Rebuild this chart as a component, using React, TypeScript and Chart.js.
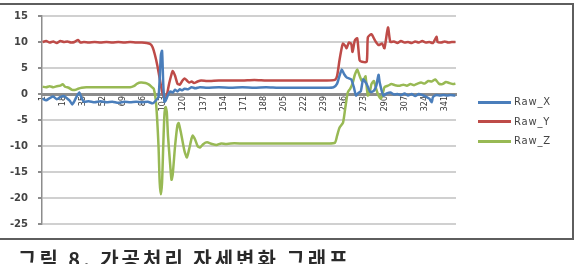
import React, { useEffect, useRef } from "react";
import { Chart, registerables } from "chart.js";

Chart.register(...registerables);

// Category tick labels on the x axis (every 17th sample)
const xTickLabels = [1, 18, 35, 52, 69, 86, 103, 120, 137, 154, 171, 188, 205, 222, 239, 256, 273, 290, 307, 324, 341];
const sampleCount = 350;

const seriesNames = ["Raw_X", "Raw_Y", "Raw_Z"];
const seriesColors = ["#4a7ebb", "#be4b48", "#98b954"];

const yMin = -25;
const yMax = 15;
const yStep = 5;

// [sample index, value]
const rawX: [number, number][] = [
  [1, -0.9], [4, -1.2], [7, -0.8], [10, -0.5], [13, -1.0], [16, -0.6], [19, -0.4], [22, -0.9], [24, -1.3], [26, -2.0],
  [28, -1.3], [30, -0.4], [32, 0.3], [34, -0.8], [36, -1.5], [40, -1.4], [45, -1.6], [50, -1.4], [55, -1.6], [60, -1.5],
  [65, -1.7], [70, -1.5], [75, -1.6], [80, -1.5], [85, -1.6], [90, -1.5], [94, -1.8], [97, -1.2], [99, -0.5], [100, 3.0],
  [101, 7.5], [102, 8.3], [103, 2.0], [104, -1.5], [105, -1.3], [107, -0.2], [109, 0.5], [111, 0.3], [113, 0.8], [115, 0.5],
  [117, 0.9], [119, 0.7], [121, 1.0], [124, 0.9], [127, 1.3], [130, 1.1], [134, 1.3], [140, 1.2], [150, 1.3], [160, 1.2],
  [170, 1.3], [180, 1.2], [190, 1.3], [200, 1.2], [210, 1.2], [220, 1.2], [230, 1.2], [240, 1.2], [247, 1.3], [250, 2.0],
  [252, 3.5], [254, 4.7], [256, 3.8], [258, 3.2], [260, 3.0], [262, 2.8], [264, 1.4], [266, -0.3], [268, 0.2], [270, 0.5],
  [272, 2.8], [275, 1.9], [278, 0.4], [281, 0.6], [283, 1.5], [285, 3.7], [286, 2.2], [289, -0.3], [292, 0.1], [295, 0.3],
  [298, -0.1], [301, 0.0], [304, -0.2], [307, 0.1], [310, -0.3], [313, 0.0], [316, -0.4], [319, 0.0], [322, -0.2], [325, -0.5],
  [328, -0.9], [330, -1.6], [331, -0.6], [334, -0.2], [337, -0.3], [340, -0.2], [343, -0.3], [346, -0.2], [350, -0.3],
];

const rawY: [number, number][] = [
  [1, 10.0], [4, 10.2], [7, 9.9], [10, 10.1], [13, 9.8], [16, 10.2], [19, 10.0], [22, 10.1], [25, 9.9], [28, 10.0],
  [31, 10.4], [33, 9.9], [36, 10.0], [40, 9.9], [45, 10.0], [50, 9.9], [55, 10.0], [60, 9.9], [65, 10.0], [70, 9.9],
  [75, 10.0], [80, 9.9], [85, 9.9], [89, 9.8], [92, 9.6], [94, 9.0], [96, 7.5], [98, 5.5], [100, 3.0], [102, 0.5],
  [104, -0.8], [105, -1.0], [106, -0.3], [108, 2.0], [110, 3.8], [111, 4.4], [113, 3.5], [115, 2.0], [117, 1.8], [119, 2.5],
  [121, 3.0], [123, 2.6], [125, 2.2], [127, 2.4], [129, 2.1], [132, 2.4], [135, 2.6], [140, 2.5], [150, 2.6], [160, 2.6],
  [170, 2.6], [180, 2.7], [190, 2.6], [200, 2.6], [210, 2.6], [220, 2.6], [230, 2.6], [240, 2.6], [248, 2.7], [250, 3.5],
  [252, 6.5], [254, 9.0], [255, 9.7], [257, 9.2], [258, 8.8], [260, 9.9], [262, 9.6], [263, 8.1], [265, 10.3], [267, 10.7],
  [269, 6.5], [271, 6.2], [275, 6.2], [276, 10.9], [279, 11.5], [282, 10.3], [285, 9.4], [288, 9.7], [290, 8.8], [293, 12.8],
  [295, 10.0], [298, 10.1], [301, 9.8], [304, 10.2], [307, 9.9], [310, 10.0], [313, 9.8], [316, 10.1], [319, 9.9], [322, 10.2],
  [325, 9.9], [328, 10.0], [331, 9.8], [334, 11.0], [335, 10.0], [338, 9.9], [341, 10.1], [344, 9.9], [347, 10.0], [350, 10.0],
];

const rawZ: [number, number][] = [
  [1, 1.4], [4, 1.3], [7, 1.5], [10, 1.3], [13, 1.5], [16, 1.6], [18, 1.9], [20, 1.4], [23, 1.2], [26, 0.8],
  [29, 0.8], [31, 1.0], [34, 1.2], [38, 1.3], [45, 1.3], [55, 1.3], [65, 1.3], [75, 1.3], [78, 1.5], [81, 2.0],
  [84, 2.2], [88, 2.1], [91, 1.8], [93, 1.4], [95, 1.0], [97, -2.0], [99, -10.0], [100, -17.0], [101, -19.3], [102, -17.0],
  [103, -10.0], [104, -4.0], [105, -2.5], [106, -3.5], [107, -8.0], [109, -14.0], [110, -16.5], [111, -15.5], [113, -10.0], [115, -6.0],
  [116, -5.6], [118, -7.5], [121, -11.0], [123, -12.2], [125, -10.5], [127, -8.5], [128, -8.0], [130, -8.8], [132, -10.0], [134, -10.3],
  [137, -9.6], [140, -9.3], [144, -9.6], [148, -9.8], [152, -9.5], [156, -9.6], [160, -9.5], [170, -9.5], [180, -9.5], [190, -9.5],
  [200, -9.5], [210, -9.5], [220, -9.5], [230, -9.5], [240, -9.5], [248, -9.4], [250, -8.0], [252, -6.5], [255, -5.5], [257, -2.5],
  [259, 0.3], [261, 1.0], [263, 2.0], [265, 3.7], [267, 4.7], [269, 3.5], [271, 2.5], [273, 3.0], [274, 3.4], [276, -0.3],
  [278, 0.8], [279, 1.9], [281, 2.5], [283, 1.0], [285, -0.3], [287, -0.9], [289, 0.5], [290, 1.3], [293, 1.6], [296, 1.9],
  [299, 1.7], [303, 1.6], [306, 1.8], [309, 1.6], [312, 1.9], [315, 1.7], [318, 2.0], [321, 2.2], [324, 2.0], [327, 2.5],
  [330, 2.4], [333, 2.8], [336, 2.0], [339, 1.9], [342, 2.3], [345, 2.1], [348, 1.9], [350, 2.0],
];

const seriesData = [rawX, rawY, rawZ];
const captionText = "그림 8. 가공처리 자세변화 그래프";

export default function App() {
  const canvasRef = useRef<HTMLCanvasElement | null>(null);

  useEffect(() => {
    const canvas = canvasRef.current;
    if (!canvas) return;
    const chart = new Chart(canvas, {
      type: "line",
      data: {
        datasets: seriesData.map((arr, i) => ({
          label: seriesNames[i],
          data: arr.map(([x, y]) => ({ x, y })),
          borderColor: seriesColors[i],
          borderWidth: 2.5,
          pointRadius: 0,
          tension: 0.2,
        })),
      },
      options: {
        animation: false,
        responsive: false,
        devicePixelRatio: 1,
        layout: { padding: { left: 0, top: 15, right: 123, bottom: 11 } },
        plugins: { legend: { display: false }, tooltip: { enabled: false } },
        scales: {
          x: {
            type: "linear",
            position: { y: 0 } as any,
            min: 0.5,
            max: sampleCount + 0.5,
            afterBuildTicks: (s: any) => {
              s.ticks = xTickLabels.map((v) => ({ value: v }));
            },
            grid: { display: false, drawTicks: false },
            border: { display: true, color: "#8c8c8c", width: 3 },
            ticks: {
              autoSkip: false,
              minRotation: 90,
              maxRotation: 90,
              padding: 2,
              color: "#333333",
              font: { family: "DejaVu Sans", size: 8 },
            },
          },
          y: {
            type: "linear",
            min: yMin,
            max: yMax,
            afterFit: (s: any) => {
              s.width = 42;
            },
            ticks: {
              stepSize: yStep,
              padding: 10,
              color: "#444444",
              font: { family: "DejaVu Sans", size: 10, weight: "bold" },
            },
            grid: { color: "#d0d0d0", lineWidth: 2, tickLength: 4, tickColor: "#8c8c8c" },
            border: { color: "#8c8c8c", width: 1.5 },
          },
        },
      },
    });
    return () => chart.destroy();
  }, []);

  const legendTop = [102, 121.5, 141];

  return (
    <div
      style={{
        position: "absolute",
        left: 0,
        top: 0,
        width: 579,
        height: 264,
        overflow: "hidden",
        background: "#fff",
      }}
    >
      <canvas
        ref={canvasRef}
        width={579}
        height={240}
        style={{ position: "absolute", left: 0, top: 0 }}
      />
      <div
        style={{
          position: "absolute",
          left: -3,
          top: 3,
          width: 573,
          height: 233,
          border: "2px solid #5e5e5e",
          pointerEvents: "none",
        }}
      />
      {seriesNames.map((name, i) => (
        <div
          key={name}
          style={{
            position: "absolute",
            left: 478,
            top: legendTop[i] - 7,
            height: 14,
            display: "flex",
            alignItems: "center",
          }}
        >
          <div style={{ width: 33, height: 3, background: seriesColors[i] }} />
          <span
            style={{
              marginLeft: 3,
              fontFamily: "DejaVu Sans",
              fontSize: 10,
              letterSpacing: 0.8,
              color: "#444",
              lineHeight: "14px",
            }}
          >
            {name}
          </span>
        </div>
      ))}
      <div
        style={{
          position: "absolute",
          left: 18,
          top: 247,
          fontFamily: "'Noto Sans CJK KR', sans-serif",
          fontWeight: "bold",
          fontSize: 20,
          letterSpacing: 3,
          lineHeight: "24px",
          color: "#2a2a2a",
          whiteSpace: "nowrap",
        }}
      >
        {captionText}
      </div>
    </div>
  );
}
